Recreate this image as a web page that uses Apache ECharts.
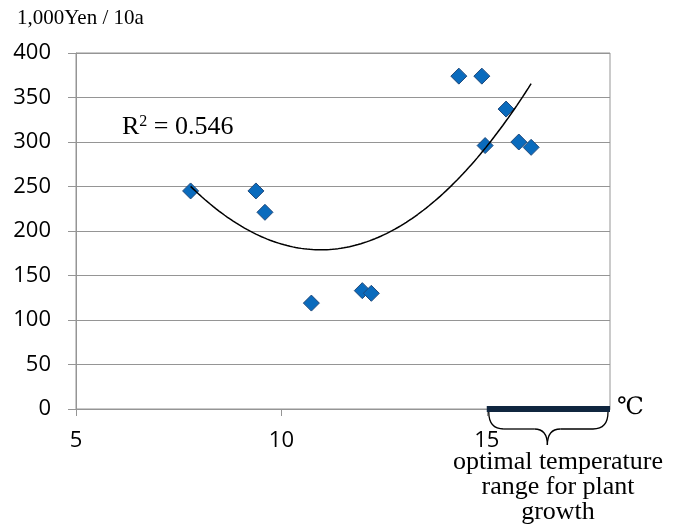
<!DOCTYPE html>
<html>
<head>
<meta charset="utf-8">
<script src="https://cdn.jsdelivr.net/npm/echarts@6/dist/echarts.min.js"></script>
<style>
html,body{margin:0;padding:0;background:#fff;}
#chart{width:682px;height:529px;}
</style>
</head>
<body>
<div id="chart"></div>
<script>
// Data
const temps  = [7.79, 9.38, 9.60, 10.73, 11.97, 12.19, 14.32, 14.88, 14.96, 15.47, 15.78, 16.08];
const yields = [245, 245, 221, 119, 133, 130, 374, 374, 296, 337, 300, 294];
const xTicks = [5, 10, 15];
const yTicks = [0, 50, 100, 150, 200, 250, 300, 350, 400];
const optimalRange = [15, 18];
const r2Text = '0.546';
const unitLabel = '1,000Yen / 10a';
const xUnit = '℃';
const rangeNote = 'optimal temperature\nrange for plant\ngrowth';

// Second-order polynomial least-squares trend line (derived from the data)
function quadFit(xs, ys) {
  let n = xs.length, s1=0, s2=0, s3=0, s4=0, t0=0, t1=0, t2=0;
  for (let i = 0; i < n; i++) {
    const x = xs[i], y = ys[i];
    s1 += x; s2 += x*x; s3 += x*x*x; s4 += x*x*x*x;
    t0 += y; t1 += x*y; t2 += x*x*y;
  }
  const M = [[n, s1, s2, t0], [s1, s2, s3, t1], [s2, s3, s4, t2]];
  for (let c = 0; c < 3; c++) {
    let p = c;
    for (let r = c+1; r < 3; r++) if (Math.abs(M[r][c]) > Math.abs(M[p][c])) p = r;
    [M[c], M[p]] = [M[p], M[c]];
    for (let r = 0; r < 3; r++) {
      if (r === c) continue;
      const f = M[r][c] / M[c][c];
      for (let k = c; k < 4; k++) M[r][k] -= f * M[c][k];
    }
  }
  return [M[0][3]/M[0][0], M[1][3]/M[1][1], M[2][3]/M[2][2]];
}
const coef = quadFit(temps, yields);
const xMinData = Math.min(...temps), xMaxData = Math.max(...temps);
const trend = [];
for (let i = 0; i <= 120; i++) {
  const x = xMinData + (xMaxData - xMinData) * i / 120;
  trend.push([x, coef[0] + coef[1]*x + coef[2]*x*x]);
}

const chart = echarts.init(document.getElementById('chart'), null, {renderer: 'canvas'});
const gray = '#959595';
const sansFont = '"Open Sans", "Liberation Sans", sans-serif';
const serifFont = '"Liberation Serif", "DejaVu Serif", serif';

chart.setOption({
  animation: false,
  backgroundColor: '#fff',
  grid: {left: 76, right: 72, top: 53, bottom: 120, show: true, borderColor: gray, borderWidth: 1, backgroundColor: 'transparent'},
  xAxis: {
    type: 'value', min: 5, max: 18, interval: 5,
    axisLine: {show: true, onZero: false, lineStyle: {color: gray, width: 1}},
    axisTick: {show: true, length: 7, lineStyle: {color: gray}, customValues: xTicks},
    axisLabel: {fontSize: 22, color: '#000', fontFamily: sansFont, margin: 21, customValues: xTicks},
    splitLine: {show: false}
  },
  yAxis: {
    type: 'value', min: 0, max: 400, interval: 50,
    axisLine: {show: true, lineStyle: {color: gray, width: 1}},
    axisTick: {show: true, length: 8, lineStyle: {color: gray}},
    axisLabel: {fontSize: 22, color: '#000', fontFamily: sansFont, margin: 25, customValues: yTicks},
    splitLine: {show: true, lineStyle: {color: gray, width: 1}}
  },
  series: [
    {
      type: 'scatter', data: temps.map((t, i) => [t, yields[i]]),
      symbol: 'diamond', symbolSize: 16,
      itemStyle: {color: '#0a6bbd', borderColor: '#21497a', borderWidth: 1, opacity: 1},
      z: 3
    },
    {
      type: 'line', data: trend, showSymbol: false, smooth: false,
      lineStyle: {color: '#000', width: 1.5}, z: 4, silent: true
    },
    {
      type: 'line', data: optimalRange.map(x => [x, 0]), showSymbol: false,
      lineStyle: {color: '#10263f', width: 6, cap: 'butt'}, z: 5, clip: false, silent: true
    }
  ]
});

function drawGraphics() {
  const p15 = chart.convertToPixel({gridIndex: 0}, [optimalRange[0], 0]);
  const p18 = chart.convertToPixel({gridIndex: 0}, [optimalRange[1], 0]);
  const L = p15[0] + 2, R = p18[0] - 2, mid = L + (R - L) / 2 - 1;
  const y0 = p15[1] + 3, yh = y0 + 17, yb = y0 + 33;
  const st = {stroke: '#000', lineWidth: 1.3, fill: null};
  const brace = [
    {type: 'bezierCurve', shape: {x1: L, y1: y0, cpx1: L, cpy1: yh, x2: L + 15, y2: yh}, style: st},
    {type: 'line', shape: {x1: L + 15, y1: yh, x2: mid - 13, y2: yh}, style: st},
    {type: 'bezierCurve', shape: {x1: mid - 13, y1: yh, cpx1: mid, cpy1: yh, x2: mid, y2: yb}, style: st},
    {type: 'bezierCurve', shape: {x1: mid, y1: yb, cpx1: mid, cpy1: yh, x2: mid + 13, y2: yh}, style: st},
    {type: 'line', shape: {x1: mid + 13, y1: yh, x2: R - 15, y2: yh}, style: st},
    {type: 'bezierCurve', shape: {x1: R - 15, y1: yh, cpx1: R, cpy1: yh, x2: R, y2: y0}, style: st}
  ];
  chart.setOption({
    graphic: [
      {type: 'text', style: {x: 17, y: 8, text: unitLabel, font: '21px ' + serifFont, fill: '#000', verticalAlign: 'top'}},
      {type: 'text', style: {
        x: 122, y: 127, verticalAlign: 'middle', fill: '#000',
        text: '{a|R}{s|2}{a| = ' + r2Text + '}',
        rich: {
          a: {fontFamily: serifFont, fontSize: 26, fill: '#000'},
          s: {fontFamily: serifFont, fontSize: 16, fill: '#000', verticalAlign: 'top'}
        }
      }},
      {type: 'text', style: {x: p18[0] + 7, y: p18[1] - 1, text: xUnit, font: '24px ' + serifFont, fill: '#000', verticalAlign: 'middle'}},
      {type: 'group', children: brace},
      {type: 'text', style: {x: 558, y: 450, text: rangeNote, font: '26px ' + serifFont, lineHeight: 25, fill: '#000', align: 'center', verticalAlign: 'top'}}
    ]
  });
}
drawGraphics();
</script>
</body>
</html>
